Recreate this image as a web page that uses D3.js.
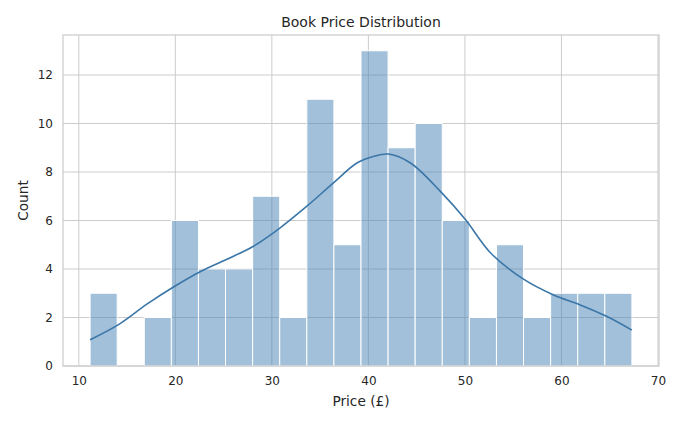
<!DOCTYPE html>
<html>
<head>
<meta charset="utf-8">
<script src="https://cdn.jsdelivr.net/npm/d3@7"></script>
<style>
  body { margin: 0; background: #fff; }
  text { font-family: "DejaVu Sans", sans-serif; fill: #262626; }
</style>
</head>
<body>
<div id="chart"></div>
<script>
const width = 680;
const height = 425;
const margin = {top: 35, right: 21, bottom: 59, left: 63};

// histogram: 20 equal bins between the cheapest and dearest book
const binStart = 11.17;
const binEnd = 67.3;
const counts = [3, 0, 2, 6, 4, 4, 7, 2, 11, 5, 13, 9, 10, 6, 2, 5, 2, 3, 3, 3];

// kde curve (price, count)
const kdePrice = [11.17, 14.28, 17.05, 19.98, 22.57, 25.34, 28.09, 30.86, 33.63, 36.38, 38.81, 40.5, 42.08, 44.36, 47.46, 50.05, 52.64, 56.07, 59.18, 61.95, 64.72, 67.3];
const kdeCount = [1.08, 1.75, 2.55, 3.3, 3.89, 4.4, 4.94, 5.7, 6.59, 7.55, 8.37, 8.64, 8.74, 8.37, 7.2, 6.04, 4.67, 3.58, 2.93, 2.52, 2.04, 1.48];

const xTicks = [10, 20, 30, 40, 50, 60, 70];
const yTicks = [0, 2, 4, 6, 8, 10, 12];

const binWidth = (binEnd - binStart) / counts.length;
const bins = counts.map((c, i) => ({x0: binStart + i * binWidth, x1: binStart + (i + 1) * binWidth, count: c}));
const kde = kdePrice.map((p, i) => [p, kdeCount[i]]);

const pad = (binEnd - binStart) * 0.05;
const x = d3.scaleLinear()
    .domain([binStart - pad, binEnd + pad])
    .range([margin.left, width - margin.right]);

const y = d3.scaleLinear()
    .domain([0, d3.max(counts) * 1.05])
    .range([height - margin.bottom, margin.top]);

const svg = d3.select("#chart")
    .append("svg")
    .attr("width", width)
    .attr("height", height);

// grid lines
svg.append("g")
    .selectAll("line")
    .data(xTicks)
    .join("line")
    .attr("x1", d => x(d)).attr("x2", d => x(d))
    .attr("y1", margin.top).attr("y2", height - margin.bottom)
    .attr("stroke", "#cccccc").attr("stroke-width", 1);

svg.append("g")
    .selectAll("line")
    .data(yTicks)
    .join("line")
    .attr("x1", margin.left).attr("x2", width - margin.right)
    .attr("y1", d => y(d)).attr("y2", d => y(d))
    .attr("stroke", "#cccccc").attr("stroke-width", 1);

// bars
svg.append("g")
    .selectAll("rect")
    .data(bins.filter(d => d.count > 0))
    .join("rect")
    .attr("x", d => x(d.x0))
    .attr("y", d => y(d.count))
    .attr("width", d => x(d.x1) - x(d.x0))
    .attr("height", d => y(0) - y(d.count))
    .attr("fill", "steelblue")
    .attr("fill-opacity", 0.5)
    .attr("stroke", "#fff")
    .attr("stroke-width", 1);

// kde line
const line = d3.line()
    .x(d => x(d[0]))
    .y(d => y(d[1]))
    .curve(d3.curveCatmullRom);

svg.append("path")
    .datum(kde)
    .attr("d", line)
    .attr("fill", "none")
    .attr("stroke", "#3b76a8")
    .attr("stroke-width", 1.6);

// spines
svg.append("rect")
    .attr("x", margin.left)
    .attr("y", margin.top)
    .attr("width", width - margin.left - margin.right)
    .attr("height", height - margin.bottom - margin.top)
    .attr("fill", "none")
    .attr("stroke", "#cccccc")
    .attr("stroke-width", 1.25);

// axes (labels only, no tick marks)
const xAxis = svg.append("g")
    .attr("transform", `translate(0,${height - margin.bottom})`)
    .call(d3.axisBottom(x).tickValues(xTicks).tickSize(0).tickPadding(10));
xAxis.select(".domain").remove();
xAxis.selectAll("text").attr("font-size", 12).style("font-family", "DejaVu Sans, sans-serif").attr("fill", "#262626");

const yAxis = svg.append("g")
    .attr("transform", `translate(${margin.left},0)`)
    .call(d3.axisLeft(y).tickValues(yTicks).tickSize(0).tickPadding(10));
yAxis.select(".domain").remove();
yAxis.selectAll("text").attr("font-size", 12).style("font-family", "DejaVu Sans, sans-serif").attr("fill", "#262626");

// labels
svg.append("text")
    .attr("x", (margin.left + width - margin.right) / 2)
    .attr("y", 27)
    .attr("text-anchor", "middle")
    .attr("font-size", 14)
    .text("Book Price Distribution");

svg.append("text")
    .attr("x", (margin.left + width - margin.right) / 2)
    .attr("y", 406)
    .attr("text-anchor", "middle")
    .attr("font-size", 13.7)
    .text("Price (£)");

svg.append("text")
    .attr("transform", `translate(28,${(margin.top + height - margin.bottom) / 2}) rotate(-90)`)
    .attr("text-anchor", "middle")
    .attr("font-size", 13.7)
    .text("Count");
</script>
</body>
</html>
